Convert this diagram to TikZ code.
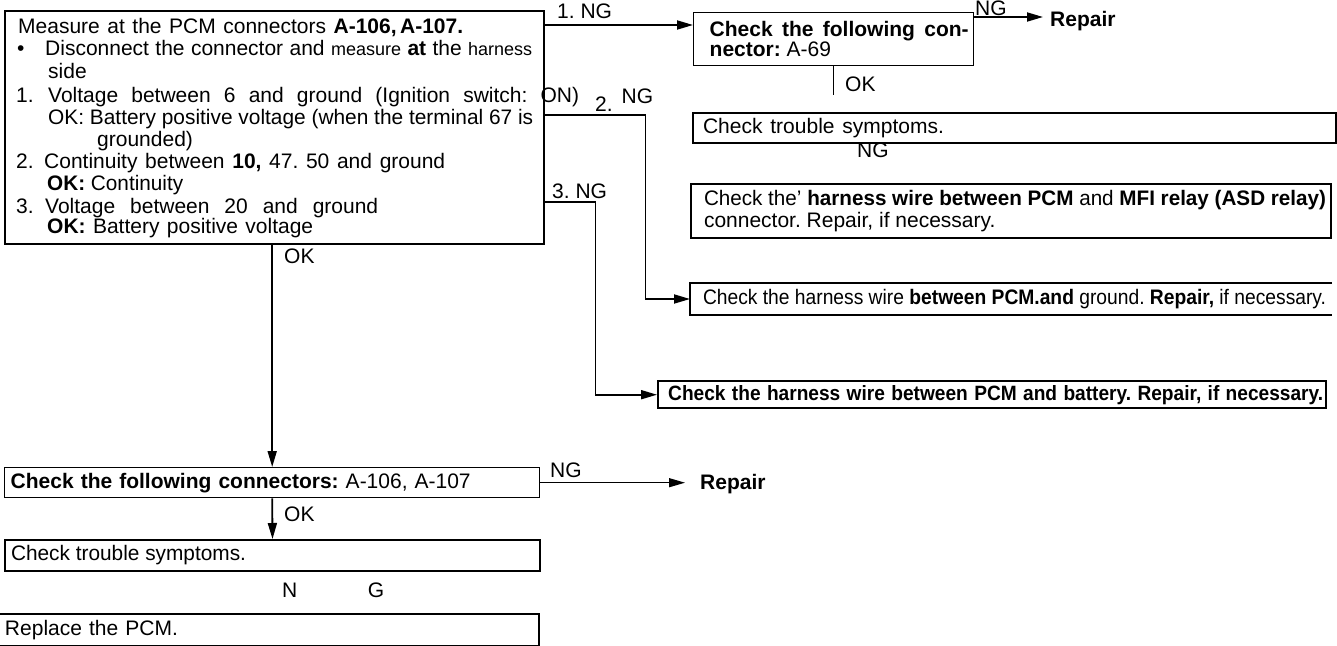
\documentclass[tikz,border=0pt]{standalone}
\usepackage{fontspec}
\usepackage{graphicx}
\setmainfont{Liberation Sans}
\usetikzlibrary{arrows.meta}
\frenchspacing
\newsavebox\linebox
% set a line to a given width: spread the spaces, or squeeze if too long
\newcommand{\fitline}[2]{\spaceskip=0pt\xspaceskip=0pt\sbox\linebox{#2}%
    \ifdim\wd\linebox>#1\relax\resizebox{#1}{\height}{\usebox\linebox}\else\makebox[#1][s]{#2}\fi}

\begin{document}
\begin{tikzpicture}[x=1pt, y=-1pt, >={Triangle[length=16pt,width=9pt]},
    font=\fontsize{21}{22}\selectfont,
    box/.style={draw, line width=2pt, inner sep=0pt, anchor=north west, align=left, text width=#1, minimum width=#1},
    flow/.style={->, line width=1.8pt},
    txt/.style={anchor=base west, inner sep=0pt}]
    \useasboundingbox (0,0) rectangle (1337,645);
    % measurement at the PCM connectors
    \node[box={539pt}, line width=2.4pt, minimum height=233pt] (meas) at (4,10) {};
    \foreach \yy/\xx/\txt [count=\i] in {
        33/18/{\fitline{445pt}{Measure at the PCM connectors \textbf{A-106,\,A-107.}}},
        55/17/{\makebox[28pt][l]{\textbullet}\fitline{487pt}{Disconnect the connector and {\fontsize{18}{18}\selectfont measure} \textbf{at} the {\fontsize{18}{18}\selectfont harness}}},
        78/48/{side},
        102/16/{\makebox[32pt][l]{1.}\fitline{531pt}{Voltage between 6 and ground (Ignition switch: ON)}},
        124/48/{\fitline{485pt}{OK: Battery positive voltage (when the terminal 67 is}},
        146/97/{grounded)},
        168/16/{\makebox[28pt][l]{2.}\fitline{401pt}{Continuity between \textbf{10,} 47. 50 and ground}},
        190/47/{\fitline{136pt}{\textbf{OK:} Continuity}},
        213/16/{\makebox[29pt][l]{3.}\fitline{333pt}{Voltage between 20 and ground}},
        233/47/{\fitline{266pt}{\textbf{OK:} Battery positive voltage}}}
        \node[txt] (meas-\i) at (\xx,\yy) {\txt};

    % right column
    \node[box={280pt}, line width=1.4pt, minimum height=53pt, font=\fontsize{21}{20}\selectfont\bfseries] (a69) at (693,12)
        {\hspace*{16pt}\fitline{259pt}{Check the following con-}\\\hspace*{16pt}nector: {\mdseries A-69}};
    \node[box={643pt}, minimum height=30pt] (symp1) at (692,112) {\hspace*{10pt}\fitline{241pt}{Check trouble symptoms.}};
    \node[box={640pt}, minimum height=54pt] (relay) at (690,183)
        {\hspace*{13pt}\fitline{622pt}{Check the' \textbf{harness wire between PCM} and \textbf{MFI relay (ASD relay)}}\\\hspace*{13pt}connector. Repair, if necessary.};
    \node[box={640pt}, draw=none, minimum height=30pt] (gnd) at (690,283)
        {\hspace*{12pt}\fitline{623pt}{Check the harness wire \textbf{between PCM.and} ground. \textbf{Repair,} if necessary.}};
    \draw[line width=2pt] (gnd.north east) -- (gnd.north west) -- (gnd.south west) -- (gnd.south east);
    \node[box={668pt}, line width=2.4pt, minimum height=27pt] (batt) at (657,380)
        {\hspace*{10pt}\resizebox{655pt}{15pt}{\bfseries Check the harness wire between PCM and battery. Repair, if necessary.}};
    \node[txt] (rep1) at (1050,26) {\bfseries Repair};

    % left column
    \node[box={535pt}, line width=1.4pt, minimum height=30pt] (conn) at (4,467)
        {\hspace*{6pt}\fitline{460pt}{\textbf{Check the following connectors:} A-106, A-107}};
    \node[box={535pt}, minimum height=31pt] (symp2) at (4,539) {\hspace*{6pt}\fitline{235pt}{Check trouble symptoms.}};
    \node[box={537pt}, draw=none, minimum height=30pt] (repl) at (0,614) {\hspace*{4pt}\fitline{173pt}{Replace the PCM.}};
    \draw[line width=2pt] (repl.north west) -- (repl.north east) -- (repl.south east) -- (repl.south west);
    \node[txt] (rep2) at (700,489) {\bfseries Repair};

    % connectors
    \coordinate (ng1) at (meas.east |- 0,25);
    \coordinate (ng2) at (meas.east |- 0,115);
    \coordinate (ng3) at (meas.east |- 0,202);
    \coordinate (ng4) at (a69.east |- 0,17);
    \coordinate (ok1) at (a69.south |- 0,95);
    \draw[flow] (ng1) -- (ng1 -| a69.west);
    \draw[flow] (ng2) -- ++(100,0) |- (gnd.west);
    \draw[flow] (ng3) -- ++(50,0) |- (batt.west);
    \draw[flow, shorten >=7pt] (ng4) -- (ng4 -| rep1.west);
    \draw[line width=1.4pt] (a69.south) -- (ok1);
    \draw[flow] (conn.north |- meas.south) -- (conn.north);
    \draw[flow, line width=1.3pt, shorten >=15pt] (conn.east) -- (conn.east -| rep2.west);
    \draw[flow] (conn.south) -- (symp2.north);

    % labels
    \node[txt] (ng1-lbl) at (557,18) {1. NG};
    \node[txt] (ng2-lbl) at (595,111) {2.\hspace{9pt}\raisebox{8pt}{NG}};
    \node[txt] (ng3-lbl) at (552,198) {3. NG};
    \node[txt] (ng4-lbl) at (975,15) {NG};
    \node[txt] (ok1-lbl) at (845,91) {OK};
    \node[txt] (ng5-lbl) at (857,157) {NG};
    \node[txt] (ok2-lbl) at (284,263) {OK};
    \node[txt] (ng6-lbl) at (550,477) {NG};
    \node[txt] (ok3-lbl) at (284,521) {OK};
    \node[txt] (ng7-lbl) at (282,597) {\fitline{102pt}{N G}};
\end{tikzpicture}
\end{document}
